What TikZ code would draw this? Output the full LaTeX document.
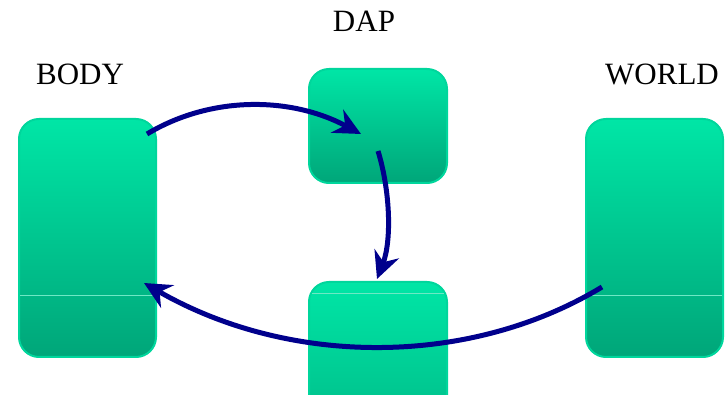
\documentclass[tikz,border=0pt]{standalone}
\usepackage{fontspec}
\setmainfont{Liberation Serif}
\usetikzlibrary{arrows.meta}
\definecolor{gtop}{RGB}{0,230,166}
\definecolor{gbot}{RGB}{0,166,121}
\definecolor{gedge}{RGB}{0,214,156}
\definecolor{gline}{RGB}{110,232,196}
\definecolor{arr}{RGB}{0,0,140}
\tikzset{
  box/.style={rectangle, rounded corners=20pt, draw=gedge, line width=2pt,
    top color=gtop, bottom color=gbot, inner sep=0pt},
  lbl/.style={anchor=base, inner sep=0pt, font=\fontsize{31}{36}\selectfont},
  flow/.style={draw=arr, line width=5pt,
    -{Stealth[length=27pt, width=26pt, inset=9pt]}},
  seam/.style={draw=gline, line width=0.8pt}
}
\begin{document}
\begin{tikzpicture}[x=1pt, y=-1pt]
\useasboundingbox (0,0) rectangle (726,395);
\begin{scope}
\clip (0,0) rectangle (726,395);
\node[box, minimum width=137pt, minimum height=238pt] (body) at (87.5,238) {};
\node[box, minimum width=138pt, minimum height=114pt] (dap) at (378,126) {};
\node[box, minimum width=138pt, minimum height=150pt, bottom color=gtop!35!gbot] (mid) at (378,357) {};
\node[box, minimum width=137pt, minimum height=238pt] (world) at (654.5,238) {};
\draw[seam] ([xshift=2pt,yshift=-57pt]body.west) -- ([xshift=-2pt,yshift=-57pt]body.east);
\draw[seam] ([xshift=2pt,yshift=-57pt]world.west) -- ([xshift=-2pt,yshift=-57pt]world.east);
\draw[seam] ([xshift=4pt,yshift=-12pt]mid.north west) -- ([xshift=-4pt,yshift=-12pt]mid.north east);
\end{scope}
\node[lbl] (tbody) at (80,85) {BODY};
\node[lbl] (tdap) at (364,32) {DAP};
\node[lbl] (tworld) at (662,85) {WORLD};
\coordinate (a1s) at (147,134);
\coordinate (a1e) at (361,134);
\coordinate (a2s) at (378,151);
\coordinate (a2e) at (377,279);
\coordinate (a3s) at (602,287);
\coordinate (a3e) at (144,283);
\draw[flow] (a1s) .. controls (210,96) and (290,96) .. (a1e);
\draw[flow] (a2s) .. controls (390,190) and (392,240) .. (a2e);
\draw[flow] (a3s) .. controls (470,367) and (290,367) .. (a3e);
\end{tikzpicture}
\end{document}
